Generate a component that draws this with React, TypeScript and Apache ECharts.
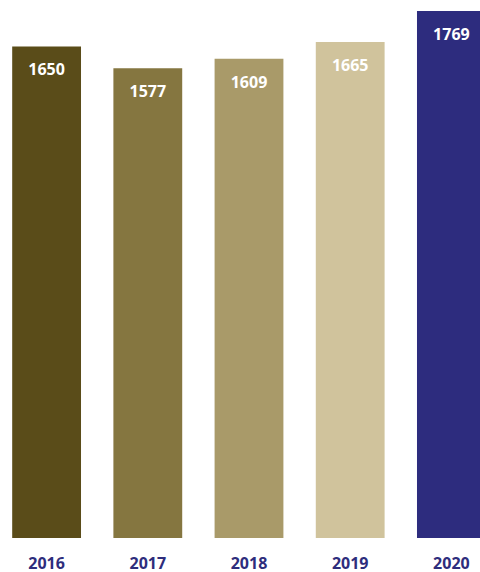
import React, { useEffect, useRef } from "react";
import * as echarts from "echarts";

const categories = ["2016", "2017", "2018", "2019", "2020"];
const values = [1650, 1577, 1609, 1665, 1769];
const barColors = ["#5a4c19", "#857640", "#a99a69", "#d0c39c", "#2d2c7e"];

export default function App() {
  const ref = useRef<HTMLDivElement>(null);
  useEffect(() => {
    const chart = echarts.init(ref.current!, null, { renderer: "svg" });
    chart.setOption({
      animation: false,
      grid: { left: 0, right: 0, top: 11, bottom: 34, containLabel: false },
      xAxis: {
        type: "category",
        data: categories,
        axisLine: { show: false },
        axisTick: { show: false },
        axisLabel: {
          color: "#2e2d7c",
          fontFamily: "Open Sans",
          fontWeight: "bold",
          fontSize: 16,
          lineHeight: 16,
          margin: 17,
        },
      },
      yAxis: {
        type: "value",
        min: 0,
        max: 1769,
        show: false,
        splitLine: { show: false },
      },
      series: [
        {
          type: "bar",
          barCategoryGap: "32%",
          data: values.map((v, i) => ({ value: v, itemStyle: { color: barColors[i] } })),
          label: {
            show: true,
            position: "insideTop",
            distance: 15,
            color: "#ffffff",
            fontFamily: "Open Sans",
            fontWeight: "bold",
            fontSize: 16,
          },
        },
      ],
    });
    return () => chart.dispose();
  }, []);
  return (
    <div
      ref={ref}
      style={{ position: "fixed", left: -4, top: 0, width: 506, height: 572, background: "#fff" }}
    />
  );
}
